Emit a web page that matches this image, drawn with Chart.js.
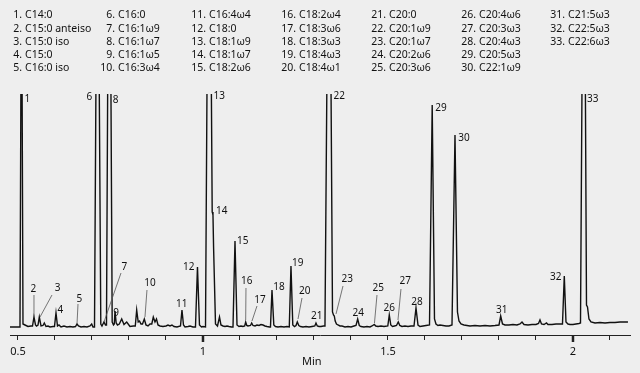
<!DOCTYPE html>
<html>
<head>
<meta charset="utf-8">
<script src="https://cdn.jsdelivr.net/npm/chart.js@4.4.0/dist/chart.umd.min.js"></script>
<style>
  html, body { margin: 0; padding: 0; background: #eeeeee; }
  #chrom { display: block; }
</style>
</head>
<body>
<canvas id="chrom" width="640" height="373"></canvas>
<script>

// retention time (min) and detector signal of the trace vertices
var rtMin = [
    0.4784, 0.5054, 0.5095, 0.5135, 0.5189, 0.5270, 0.5351, 0.5392, 0.5432, 0.5473,
    0.5500, 0.5541, 0.5576, 0.5622, 0.5676, 0.5711, 0.5757, 0.5811, 0.5865, 0.5946,
    0.5986, 0.6027, 0.6068, 0.6108, 0.6162, 0.6243, 0.6324, 0.6405, 0.6486, 0.6554,
    0.6595, 0.6635, 0.6703, 0.6784, 0.6865, 0.6946, 0.6992, 0.7027, 0.7068, 0.7116,
    0.7186, 0.7238, 0.7270, 0.7324, 0.7365, 0.7392, 0.7432, 0.7503, 0.7546, 0.7581,
    0.7603, 0.7622, 0.7654, 0.7689, 0.7738, 0.7803, 0.7865, 0.7938, 0.8027, 0.8116,
    0.8170, 0.8208, 0.8249, 0.8284, 0.8324, 0.8365, 0.8414, 0.8459, 0.8514, 0.8568,
    0.8616, 0.8657, 0.8703, 0.8743, 0.8784, 0.8838, 0.8919, 0.9000, 0.9054, 0.9108,
    0.9162, 0.9216, 0.9297, 0.9392, 0.9432, 0.9473, 0.9514, 0.9595, 0.9649, 0.9730,
    0.9797, 0.9851, 0.9905, 0.9959, 1.0000, 1.0068, 1.0122, 1.0211, 1.0249, 1.0270,
    1.0286, 1.0338, 1.0392, 1.0446, 1.0486, 1.0541, 1.0595, 1.0649, 1.0703, 1.0770,
    1.0811, 1.0865, 1.0919, 1.0973, 1.1027, 1.1081, 1.1127, 1.1154, 1.1184, 1.1216,
    1.1284, 1.1316, 1.1351, 1.1405, 1.1459, 1.1514, 1.1568, 1.1622, 1.1676, 1.1730,
    1.1797, 1.1824, 1.1865, 1.1914, 1.1959, 1.2027, 1.2108, 1.2189, 1.2270, 1.2332,
    1.2378, 1.2427, 1.2473, 1.2514, 1.2549, 1.2589, 1.2635, 1.2703, 1.2784, 1.2865,
    1.2946, 1.3022, 1.3054, 1.3089, 1.3135, 1.3189, 1.3257, 1.3297, 1.3365, 1.3446,
    1.3500, 1.3527, 1.3549, 1.3573, 1.3608, 1.3649, 1.3703, 1.3757, 1.3838, 1.3919,
    1.4000, 1.4081, 1.4135, 1.4181, 1.4224, 1.4270, 1.4351, 1.4432, 1.4514, 1.4568,
    1.4630, 1.4670, 1.4730, 1.4811, 1.4892, 1.4995, 1.5035, 1.5076, 1.5122, 1.5176,
    1.5230, 1.5278, 1.5319, 1.5378, 1.5459, 1.5541, 1.5622, 1.5703, 1.5757, 1.5811,
    1.5865, 1.5946, 1.6027, 1.6122, 1.6195, 1.6257, 1.6297, 1.6351, 1.6405, 1.6486,
    1.6568, 1.6649, 1.6730, 1.6811, 1.6878, 1.6919, 1.6973, 1.7054, 1.7135, 1.7216,
    1.7351, 1.7486, 1.7622, 1.7757, 1.7892, 1.8000, 1.8046, 1.8095, 1.8162, 1.8270,
    1.8378, 1.8486, 1.8568, 1.8622, 1.8676, 1.8784, 1.8892, 1.9000, 1.9068, 1.9108,
    1.9149, 1.9216, 1.9284, 1.9324, 1.9432, 1.9541, 1.9649, 1.9716, 1.9765, 1.9811,
    1.9865, 1.9919, 2.0000, 2.0081, 2.0162, 2.0203, 2.0257, 2.0324, 2.0365, 2.0392,
    2.0432, 2.0486, 2.0595, 2.0730, 2.0865, 2.1000, 2.1135, 2.1270, 2.1405, 2.1486
];

var signal = [
    0, 0, 400, 3, 2, 0.5, 1, 1, 10, 2,
    1, 2, 10, 1, 1.5, 4, 0.5, 1, 0, 0.5,
    0.5, 14, 1, 2, 0, 1, 0, 0.5, 0, 0.5,
    3, 1, 0, 0.5, 0, 1, 3, 0, 0, 300,
    300, 3, 1, 5, 2, 2, 300, 300, 5, 2,
    3, 16, 4, 2, 3, 8, 2.5, 5, 0.5, 1,
    1, 17, 5, 6, 3, 3, 8, 2, 1, 3,
    3, 10, 5, 8, 2, 1, 0.5, 1, 2, 1,
    2, 0.5, 0, 1, 17, 2, 0, 0.5, 1, 0,
    0, 60, 2, 0, 0.5, 0, 320, 320, 115, 112,
    80, 3, 1, 10, 2, 1, 0.5, 1, 0.5, 0,
    0, 86, 2, 0.5, 1, 0.5, 1, 5, 1.5, 1,
    1.5, 4, 1.5, 1, 2, 1.5, 2.5, 2, 1, 0.5,
    0, 0, 37, 2, 0.5, 0, 0.5, 0, 0.5, 0,
    61, 2, 0.5, 1.5, 5, 1.5, 0.5, 0, 0.5, 0,
    0.5, 1, 4, 1, 0.5, 0.5, 1, 1, 320, 320,
    15, 12, 11, 6, 3, 2, 1, 1, 0, 0.5,
    0, 1, 1.5, 8, 1.5, 0.5, 0, 0.5, 0, 1,
    2.5, 1, 0.5, 1, 0.5, 1, 12, 2, 0.5, 1,
    1.5, 5, 1.5, 0.5, 1, 0.5, 1, 1, 19, 2,
    0.5, 1, 1.5, 2, 222, 8, 3, 1.5, 2, 1.5,
    1, 1, 2, 192, 15, 6, 3, 2, 1.5, 1,
    1.5, 1, 1.5, 1, 1.5, 2, 11, 3, 2, 2,
    2.5, 2, 3, 5, 2.5, 2, 2.5, 2.5, 3.5, 7,
    3, 2.5, 4, 2.5, 2.5, 3, 3, 3, 51, 5,
    3, 2.5, 2.5, 3, 3.5, 4, 320, 320, 22, 20,
    8, 5, 4, 4.5, 4, 4.5, 4.5, 5, 5, 5
];

var compounds = [
    'C14:0', 'C15:0 anteiso', 'C15:0 iso', 'C15:0', 'C16:0 iso',
    'C16:0', 'C16:1ω9', 'C16:1ω7', 'C16:1ω5', 'C16:3ω4',
    'C16:4ω4', 'C18:0', 'C18:1ω9', 'C18:1ω7', 'C18:2ω6',
    'C18:2ω4', 'C18:3ω6', 'C18:3ω3', 'C18:4ω3', 'C18:4ω1',
    'C20:0', 'C20:1ω9', 'C20:1ω7', 'C20:2ω6', 'C20:3ω6',
    'C20:4ω6', 'C20:3ω3', 'C20:4ω3', 'C20:5ω3', 'C22:1ω9',
    'C21:5ω3', 'C22:5ω3', 'C22:6ω3'
];

// where each peak number sits (min, signal)
var labelTime = [
    0.5251, 0.5414, 0.6073, 0.6143, 0.6657, 0.6927, 0.7873, 0.7641, 0.7649, 0.8568,
    0.9424, 0.9614, 1.0441, 1.0505, 1.1073, 1.1181, 1.1541, 1.2054, 1.2559, 1.2749,
    1.3073, 1.3684, 1.3900, 1.4197, 1.4738, 1.5035, 1.5468, 1.5784, 1.6432, 1.7054,
    1.8073, 1.9532, 2.0532
];
var labelSignal = [
    228, 37.7, 39.3, 16.7, 28.3, 230.3, 60.3, 227.3, 13.7, 43.7,
    22.7, 59.7, 230.7, 116, 86, 45.7, 27, 40, 64, 35.7,
    11.3, 231.3, 48, 14, 39, 18.7, 45.7, 25, 218.7, 189,
    17, 49.7, 228.3
];

// leader lines: peak number, label end (min, signal), peak end (min, signal)
var leaderPeak = [2, 3, 5, 7, 10, 16, 17, 20, 23, 25, 27];
var leaderFromTime = [0.5432, 0.5919, 0.6622, 0.7784, 0.8486, 1.1162, 1.1459, 1.2676, 1.3784, 1.4703, 1.5351];
var leaderFromSignal = [32, 32, 23, 54, 37, 39, 21, 29, 41, 32, 38];
var leaderToTime = [0.5432, 0.5595, 0.6595, 0.7324, 0.8432, 1.1154, 1.1324, 1.2568, 1.3595, 1.4635, 1.5270];
var leaderToSignal = [10, 10, 3, 5, 10, 7, 6, 8, 13, 4, 7];

var tickValues = [0.5, 0.6, 0.7, 0.8, 0.9, 1, 1.1, 1.2, 1.3, 1.4, 1.5, 1.6, 1.7, 1.8, 1.9, 2, 2.1];
var tickLabels = ['0.5', '1', '1.5', '2'];
var longTicks = [1, 2];
var axisTitle = 'Min';
var axisTitleAt = 1.294;   // the title sits a little left of the middle


var fontName = '"Noto Sans", "DejaVu Sans", sans-serif';

var annotate = {
    id: 'annotate',
    afterDraw: function (chart) {
        var ctx = chart.ctx;
        var xs = chart.scales.x, ys = chart.scales.y;
        ctx.save();

        // compound list
        var colX = [25, 118, 209, 299, 389, 479, 568];
        ctx.font = '10.5px ' + fontName;
        ctx.fillStyle = '#111';
        ctx.textBaseline = 'middle';
        for (var i = 0; i < compounds.length; i++) {
            var col = Math.floor(i / 5), row = i % 5;
            var y = 15.5 + row * 13.2;
            ctx.textAlign = 'right';
            ctx.fillText((i + 1) + '.', colX[col] - 3, y);
            ctx.textAlign = 'left';
            ctx.fillText(compounds[i], colX[col], y);
        }

        // leader lines
        ctx.strokeStyle = '#555';
        ctx.lineWidth = 0.8;
        for (var j = 0; j < leaderPeak.length; j++) {
            ctx.beginPath();
            ctx.moveTo(xs.getPixelForValue(leaderFromTime[j]), ys.getPixelForValue(leaderFromSignal[j]));
            ctx.lineTo(xs.getPixelForValue(leaderToTime[j]), ys.getPixelForValue(leaderToSignal[j]));
            ctx.stroke();
        }

        // peak numbers
        ctx.font = '10px ' + fontName;
        ctx.textAlign = 'center';
        for (var k = 0; k < labelTime.length; k++) {
            ctx.fillText(String(k + 1), xs.getPixelForValue(labelTime[k]), ys.getPixelForValue(labelSignal[k]));
        }

        // axis title
        ctx.font = '11px ' + fontName;
        ctx.fillText(axisTitle, xs.getPixelForValue(axisTitleAt), xs.top + 27);

        // longer ticks at whole minutes
        ctx.strokeStyle = '#222';
        ctx.lineWidth = 2.5;
        longTicks.forEach(function (v) {
            var px = xs.getPixelForValue(v);
            ctx.beginPath();
            ctx.moveTo(px, xs.top);
            ctx.lineTo(px, xs.top + 7);
            ctx.stroke();
        });
        ctx.restore();
    }
};

var points = rtMin.map(function (t, i) { return { x: t, y: signal[i] }; });

var chrom = new Chart(document.getElementById('chrom'), {
    type: 'line',
    data: {
        datasets: [{
            data: points,
            borderColor: '#111',
            borderWidth: 1.4,
            pointRadius: 0,
            tension: 0,
            fill: false
        }]
    },
    options: {
        responsive: false,
        animation: false,
        devicePixelRatio: 1,
        layout: { padding: { left: 10, right: 10, top: 94, bottom: 10 } },
        plugins: { legend: { display: false }, tooltip: { enabled: false } },
        scales: {
            x: {
                type: 'linear',
                min: 0.4784,
                max: 2.1541,
                afterBuildTicks: function (scale) {
                    scale.ticks = tickValues.map(function (v) { return { value: v }; });
                },
                border: { display: true, color: '#222', width: 1 },
                grid: { drawOnChartArea: false, drawTicks: true, tickLength: 5, tickColor: '#222', tickWidth: 1 },
                ticks: {
                    autoSkip: false,
                    maxRotation: 0,
                    padding: 6,
                    color: '#111',
                    font: { family: fontName, size: 11, lineHeight: 1 },
                    callback: function (v) {
                        var s = String(Math.round(v * 10) / 10);
                        return tickLabels.indexOf(s) >= 0 ? s : '';
                    }
                }
            },
            y: {
                display: false,
                min: -8,
                max: 233
            }
        }
    },
    plugins: [annotate]
});

</script>
</body>
</html>
